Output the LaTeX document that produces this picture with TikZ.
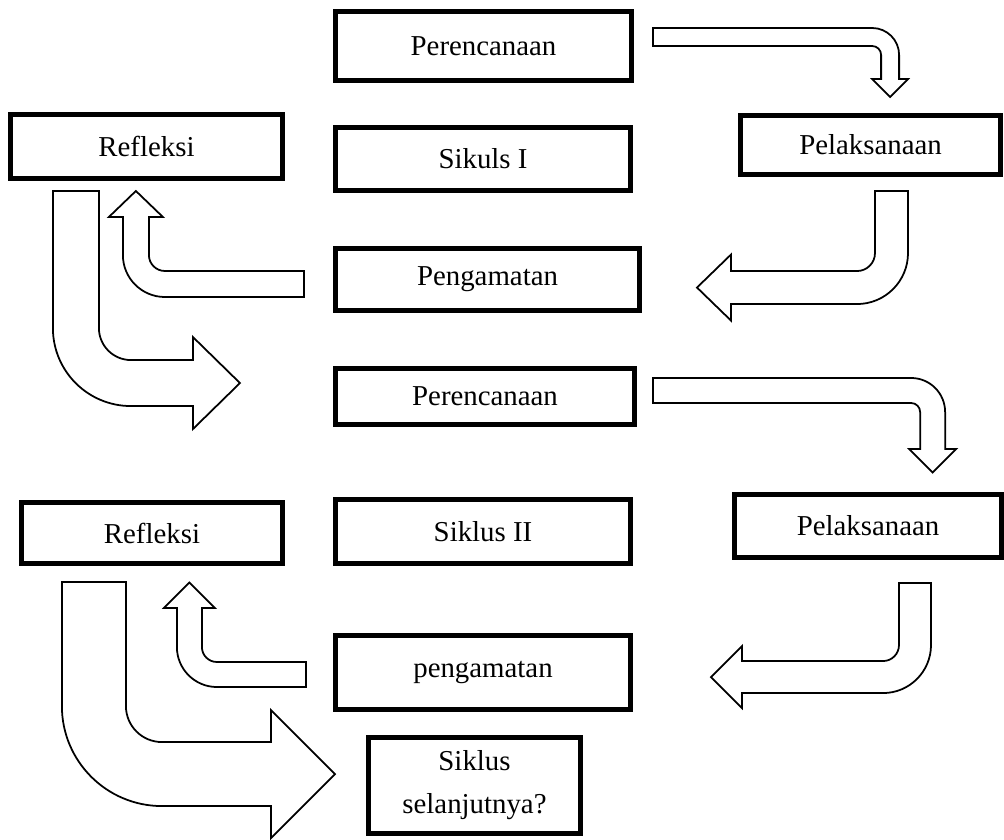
\documentclass[tikz,border=0pt]{standalone}
\usepackage{fontspec}
\setmainfont{Liberation Serif}
\usepackage{tikz}
\usetikzlibrary{calc}

\begin{document}
\begin{tikzpicture}[x=0.01cm, y=0.01cm, every node/.style={font=\fontsize{8.2}{12.2}\selectfont}]
				\tikzstyle{tahap}=[draw=black, line width=0.05cm, fill=none, text=black, inner sep=0pt, align=center]
				\tikzstyle{panahblok}=[draw=black, line width=0.5pt, fill=white]
				
				\useasboundingbox (0,0) rectangle (1004,-839);
				
				% siklus I
				\node (per1) at (483.5,-46) [tahap, minimum width=2.96cm, minimum height=0.69cm] {Perencanaan};
				\node (sik1) at (483,-159) [tahap, minimum width=2.95cm, minimum height=0.63cm] {Sikuls I};
				\node (ref1) at (146.5,-146.5) [tahap, minimum width=2.72cm, minimum height=0.64cm] {Refleksi};
				\node (pel1) at (870.5,-145) [tahap, minimum width=2.60cm, minimum height=0.59cm] {Pelaksanaan};
				\node (pen1) at (487.5,-279.5) [tahap, minimum width=3.04cm, minimum height=0.62cm] {Pengamatan};
				
				% siklus II
				\node (per2) at (485,-396.5) [tahap, minimum width=2.99cm, minimum height=0.56cm] {Perencanaan};
				\node (sik2) at (483,-531.5) [tahap, minimum width=2.95cm, minimum height=0.64cm] {Siklus II};
				\node (ref2) at (152,-533) [tahap, minimum width=2.61cm, minimum height=0.61cm] {Refleksi};
				\node (pel2) at (868,-526) [tahap, minimum width=2.67cm, minimum height=0.63cm] {Pelaksanaan};
				\node (pen2) at (483,-672.5) [tahap, minimum width=2.95cm, minimum height=0.74cm] {pengamatan};
				\node (sel) at (474.5,-785.5) [tahap, minimum width=2.12cm, minimum height=0.96cm] {Siklus\\selanjutnya?};
				
				% panah siklus I
				\draw [panahblok] ($(per1.north east)+(19,-19)$) -- ++(219,0) arc[start angle=90, end angle=0, radius=0.27cm]
					-- ++(0,-24) -- ++(9,0) -- ++(-18,-18) -- ++(-18,18) -- ++(9,0) -- ++(0,24)
					arc[start angle=0, end angle=90, radius=0.09cm] -- ++(-219,0) -- cycle;
				\draw [panahblok] ($(pel1.south)+(4.5,-14)$) -- ++(33,0) -- ++(0,-62) arc[start angle=0, end angle=-90, radius=0.51cm]
					-- ++(-126,0) -- ++(0,-16.5) -- ++(-34,33) -- ++(34,33) -- ++(0,-16.5) -- ++(126,0)
					arc[start angle=-90, end angle=0, radius=0.18cm] -- cycle;
				\draw [panahblok] ($(pen1.west)+(-29,8.5)$) -- ++(0,-26) -- ++(-139,0) arc[start angle=270, end angle=180, radius=0.42cm]
					-- ++(0,38) -- ++(-14,0) -- ++(27,26) -- ++(27,-26) -- ++(-14,0) -- ++(0,-38)
					arc[start angle=180, end angle=270, radius=0.16cm] -- cycle;
				\draw [panahblok] ($(ref1.south west)+(45,-10)$) -- ++(46,0) -- ++(0,-137) arc[start angle=180, end angle=270, radius=0.32cm]
					-- ++(62,0) -- ++(0,23) -- ++(47,-46) -- ++(-47,-46) -- ++(0,23) -- ++(-62,0)
					arc[start angle=270, end angle=180, radius=0.78cm] -- cycle;
				
				% panah siklus II
				\draw [panahblok] ($(per2.north east)+(16,-12)$) -- ++(258,0) arc[start angle=90, end angle=0, radius=0.34cm]
					-- ++(0,-37) -- ++(11,0) -- ++(-23.5,-23.5) -- ++(-23.5,23.5) -- ++(11,0) -- ++(0,37)
					arc[start angle=0, end angle=90, radius=0.09cm] -- ++(-258,0) -- cycle;
				\draw [panahblok] ($(pel2.south)+(31,-23)$) -- ++(32,0) -- ++(0,-62) arc[start angle=0, end angle=-90, radius=0.48cm]
					-- ++(-141,0) -- ++(0,-15) -- ++(-31,31) -- ++(31,31) -- ++(0,-15) -- ++(141,0)
					arc[start angle=-90, end angle=0, radius=0.16cm] -- cycle;
				\draw [panahblok] ($(pen2.west)+(-27,10.5)$) -- ++(0,-25) -- ++(-89,0) arc[start angle=270, end angle=180, radius=0.40cm]
					-- ++(0,39) -- ++(-13,0) -- ++(25.5,25.5) -- ++(25.5,-25.5) -- ++(-13,0) -- ++(0,-39)
					arc[start angle=180, end angle=270, radius=0.15cm] -- cycle;
				\draw [panahblok] ($(ref2.south west)+(43,-16)$) -- ++(64,0) -- ++(0,-124) arc[start angle=180, end angle=270, radius=0.36cm]
					-- ++(109,0) -- ++(0,32) -- ++(64,-64) -- ++(-64,-64) -- ++(0,32) -- ++(-109,0)
					arc[start angle=270, end angle=180, radius=1.00cm] -- cycle;
				
				\end{tikzpicture}
\end{document}
